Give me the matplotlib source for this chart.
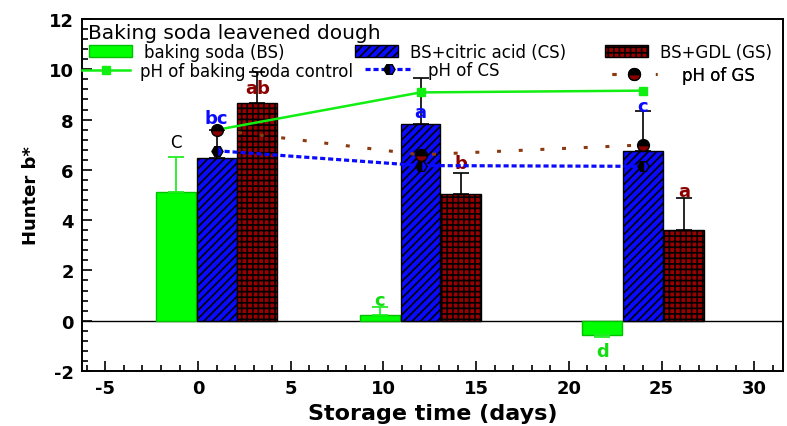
import matplotlib
matplotlib.use("Agg")
import matplotlib.pyplot as plt
import numpy as np
from matplotlib.patches import Patch
from matplotlib.lines import Line2D
from matplotlib.ticker import MultipleLocator

plt.rcParams['font.family'] = ['DejaVu Sans']
plt.rcParams['hatch.linewidth'] = 1.2
plt.rcParams['axes.unicode_minus'] = False

# storage day of each group (centre of CS bar / pH points)
days = [1, 12, 24]

bs = [5.13, 0.21, -0.58]
bs_err = [1.39, 0.32, 0.08]
cs = [6.48, 7.81, 6.74]
cs_err = [1.1, 1.84, 1.59]
gs = [8.65, 5.05, 3.62]
gs_err = [1.23, 0.81, 1.25]

ph_bs = [7.59, 9.08, 9.15]
ph_cs = [6.76, 6.17, 6.14]
ph_gs = [7.59, 6.6, 6.99]

# significance letters and their heights
bs_letters = ["C", "c", "d"]
bs_letter_y = [7.12, 0.84, -1.19]
cs_letters = ["bc", "a", "c"]
cs_letter_y = [8.06, 8.3, 8.55]
gs_letters = ["ab", "b", "a"]
gs_letter_y = [9.26, 6.27, 5.17]

GREEN = '#00FF00'
BLUE = '#0A0AFF'
MAROON = '#990000'

off = 2.2
w = 2.15
x = np.array(days, dtype=float)

fig = plt.figure(figsize=(7.87, 4.27), dpi=100)
ax = fig.add_axes([0.1042, 0.1288, 0.8907, 0.8244])

ax.axhline(0, color='black', lw=1, zorder=1)

# bars, errors go away from zero
bs_lo = [e if v < 0 else 0 for v, e in zip(bs, bs_err)]
bs_hi = [e if v >= 0 else 0 for v, e in zip(bs, bs_err)]
ax.bar(x - off, bs, w, color=GREEN, edgecolor='#00C000', lw=1, zorder=2)
ax.errorbar(x - off, bs, yerr=[bs_lo, bs_hi], fmt='none', ecolor='#22EE22',
            elinewidth=1.3, capsize=6, capthick=1.3, zorder=2)

ax.bar(x, cs, w, color=BLUE, edgecolor='black', hatch='////', lw=1, zorder=2)
ax.errorbar(x, cs, yerr=[[0] * 3, cs_err], fmt='none', ecolor='black',
            elinewidth=1.2, capsize=6, capthick=1.2, zorder=2)

ax.bar(x + off, gs, w, color=MAROON, edgecolor='black', hatch='+++', lw=1, zorder=2)
ax.errorbar(x + off, gs, yerr=[[0] * 3, gs_err], fmt='none', ecolor='black',
            elinewidth=1.2, capsize=6, capthick=1.2, zorder=2)

# pH lines
bs_style = dict(color='#11EE11', lw=1.8, marker='s', ms=6)
ax.plot(days, ph_bs, zorder=4, **bs_style)
cs_style = dict(color=BLUE, lw=2.3, ls=(0, (1.6, 0.9)), marker='H', ms=8,
                mfc=BLUE, mfcalt='black', fillstyle='right', mec='black')
ax.plot(days, ph_cs, zorder=5, **cs_style)
gs_style = dict(color='#8B3A10', lw=2.2, ls=(0, (1.3, 5.8)), marker='o', ms=8.5,
                mfc='#8B0000', mfcalt='black', fillstyle='bottom', mec='black')
ax.plot(days, ph_gs, zorder=6, **gs_style)

# letters
for xi, t, y in zip(x - off, bs_letters, bs_letter_y):
    if t == "C":
        ax.text(xi, y, t, color='black', fontsize=12, ha='center', va='center')
    else:
        ax.text(xi, y, t, color='#11DD11', fontsize=13, fontweight='bold',
                ha='center', va='center')
for xi, t, y in zip(x, cs_letters, cs_letter_y):
    ax.text(xi, y, t, color=BLUE, fontsize=13, fontweight='bold', ha='center', va='center')
for xi, t, y in zip(x + off, gs_letters, gs_letter_y):
    ax.text(xi, y, t, color='#8B0000', fontsize=13, fontweight='bold', ha='center', va='center')

ax.set_xlim(-6.26, 31.55)
ax.set_ylim(-2, 12)
ax.xaxis.set_major_locator(MultipleLocator(5))
ax.xaxis.set_minor_locator(MultipleLocator(1))
ax.yaxis.set_major_locator(MultipleLocator(2))
ax.yaxis.set_minor_locator(MultipleLocator(0.4))
ax.tick_params(which='both', direction='in', width=1.2, top=False, right=False)
ax.tick_params(which='major', length=7, labelsize=13, pad=6)
ax.tick_params(which='minor', length=4)
for lab in ax.get_xticklabels() + ax.get_yticklabels():
    lab.set_fontweight('bold')
for s in ax.spines.values():
    s.set_linewidth(1.4)

ax.set_xlabel("Storage time (days)", fontsize=16, fontweight='bold', labelpad=4)
ax.set_ylabel("Hunter b*", fontsize=13, fontweight='bold', labelpad=6)

# legend, entries placed one by one like the original
ax.text(0.009, 0.962, "Baking soda leavened dough", transform=ax.transAxes,
        fontsize=14.5, va='center', ha='left')


def px(xp, yp):
    return ((xp - 82) / 701, (372 - yp) / 352)


entries = [
    (Patch(facecolor=GREEN, edgecolor='#00C000'), "baking soda (BS)", 89, 53, 2.6, 0.7),
    (Patch(facecolor=BLUE, edgecolor='black', hatch='////'), "BS+citric acid (CS)", 355, 53, 2.6, 0.7),
    (Patch(facecolor=MAROON, edgecolor='black', hatch='+++'), "BS+GDL (GS)", 605, 53, 2.6, 0.7),
    (Line2D([], [], **bs_style), "pH of baking soda control", 82, 72, 2.9, 0.6),
    (Line2D([], [], **cs_style), "pH of CS", 365, 71, 2.9, 0.9),
    (Line2D([], [], **gs_style), "pH of GS", 612, 76, 2.7, 1.5),
]
for h, lab, xp, yp, hl, tp in entries:
    leg = ax.legend(handles=[h], labels=[lab], loc='center left', bbox_to_anchor=px(xp, yp),
                    frameon=False, borderpad=0, borderaxespad=0, fontsize=12,
                    handlelength=hl, handletextpad=tp)
    ax.add_artist(leg)

fig.savefig("out.png", dpi=100)
